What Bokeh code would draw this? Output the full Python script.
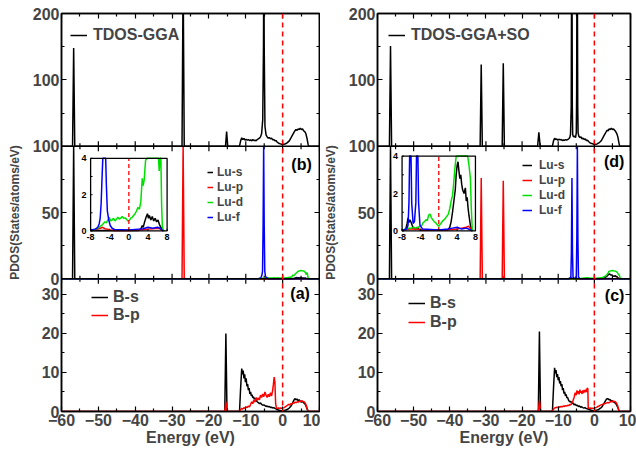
import numpy as np
from bokeh.plotting import figure
from bokeh.models import Range1d, FixedTicker, LinearAxis, Span, Legend, LegendItem
from bokeh.layouts import row
from bokeh.embed import file_html
from bokeh.resources import INLINE
from bokeh.core.properties import value

FONT = "Liberation Sans"
BLACK, RED, GREEN, BLUE = "black", "#ff0000", "#00e000", "#0000ff"

# ---------------- axes / ticks ----------------
x_major = [-60, -50, -40, -30, -20, -10, 0, 10]
x_minor = [-55, -45, -35, -25, -15, -5, 5]
tdos_max = 200
tdos_major = [100, 200]
tdos_minor = [50, 150]
lu_max = 100
lu_major = [0, 50, 100]
lu_minor = [25, 75]
b_max = 34
b_major = [0, 10, 20, 30]
b_minor = [5, 15, 25]
in_ymax = 4
in_x_major = [-8, -4, 0, 4, 8]
in_y_major = [0, 2, 4]
in_y_minor = [1, 3]

# ---------------- TDOS (GGA) ----------------
tdos_gga_e = [-60, -57.0, -56.7, -56.4, -27.3, -27.0, -26.7, -15.5, -15.2, -14.9,
              -11.7, -11.4, -11.1, -10.8, -10.5, -10.2, -9.9, -9.6, -9.3, -9.0,
              -8.7, -8.4, -8.1, -7.8, -7.5, -7.2, -6.9, -6.6, -6.3, -6.0,
              -5.7, -5.4, -5.2, -5.1, -5.0, -4.8, -4.5, -4.2, -3.9, -3.6,
              -3.3, -3.0, -2.7, -2.4, -2.1, -1.8, -1.5, -1.2, -0.9, -0.6,
              -0.3, 0.0, 0.3, 0.6, 0.9, 1.2, 1.5, 1.8, 2.1, 2.4,
              2.7, 3.0, 3.3, 3.6, 3.9, 4.2, 4.5, 4.8, 5.1, 5.4,
              5.7, 6.0, 6.3, 6.6, 6.9, 7.1, 10]
tdos_gga_v = [0, 0, 148, 0, 0, 260, 0, 0, 22, 0,
              0, 8, 12.5, 10, 11.5, 9, 10.5, 9, 10, 8.5,
              9.5, 8, 10, 8.5, 9, 8, 10, 11, 12, 14,
              19, 40, 150, 300, 150, 30, 17, 14, 12, 13,
              11, 12, 9.5, 10, 8, 8.5, 6, 5, 4, 3.5,
              3, 2.5, 2.8, 3.2, 4, 5, 6.5, 8, 11, 14,
              17, 20, 23, 25, 24, 26, 25, 27, 25, 26,
              23, 22, 19, 12, 3, 0, 0]

# ---------------- TDOS (GGA+SO) ----------------
tdos_so_e = [-60, -56.7, -56.4, -56.1, -31.6, -31.3, -31.0, -25.5, -25.2, -24.9,
             -15.7, -15.35, -15.0,
             -11.6, -11.3, -11.0, -10.7, -10.4, -10.1, -9.8, -9.5, -9.2, -8.9,
             -8.6, -8.3, -8.0, -7.7, -7.4, -7.1, -6.8, -6.6, -6.4, -6.3,
             -6.2, -6.1, -6.0, -5.8, -5.5, -5.2, -5.0, -4.9, -4.8, -4.7,
             -4.6, -4.5, -4.3, -4.0, -3.7, -3.4, -3.1, -2.8, -2.5, -2.2,
             -1.9, -1.6, -1.3, -1.0, -0.7, -0.4, -0.1, 0.2, 0.5, 0.8,
             1.1, 1.4, 1.7, 2.0, 2.3, 2.6, 2.9, 3.2, 3.5, 3.8,
             4.1, 4.4, 4.7, 5.0, 5.3, 5.6, 5.9, 6.2, 6.5, 6.8,
             7.0, 10]
tdos_so_v = [0, 0, 151, 0, 0, 123, 0, 0, 125, 0,
             0, 21, 0,
             0, 8, 12, 10, 11, 9, 10.5, 9.5, 10, 8.5,
             9.5, 8.5, 10, 9, 10, 11, 13, 18, 60, 250,
             300, 60, 18, 14, 15, 13, 20, 80, 300, 250,
             60, 20, 15, 13, 14, 11, 12, 10, 11, 8.5,
             9, 7, 5.5, 4.5, 4, 3.5, 2.5, 2.5, 3, 3.5,
             4.5, 5.5, 7, 9, 12, 15, 18, 21, 24, 23,
             26, 25, 27, 25, 26, 24, 22, 19, 14, 5,
             0, 0]

# ---------------- Lu PDOS (GGA) ----------------
lus_gga_e = [-60, -57.0, -56.7, -56.4, -8.0, 2.0, 2.5, 2.8, 3.0, 3.3,
             3.6, 3.9, 4.1, 4.3, 4.6, 4.9, 5.2, 5.5, 5.8, 6.1,
             6.4, 6.7, 7.0, 7.2, 10]
lus_gga_v = [0, 0, 140, 0, 0.02, 0.03, 0.1, 0.3, 0.2, 0.5,
             0.75, 0.95, 0.7, 0.85, 0.6, 0.8, 0.55, 0.7, 0.5, 0.6,
             0.35, 0.2, 0.05, 0, 0]
lup_gga_e = [-60, -27.3, -27.0, -26.7, -8.0, -7.0, -6.5, -6.0, -5.5, -5.0,
             -4.5, -4.0, -3.0, 0.0, 2.0, 3.0, 4.0, 5.0, 6.0, 6.5,
             7.0, 7.2, 10]
lup_gga_v = [0, 0, 200, 0, 0.02, 0.05, 0.1, 0.15, 0.2, 0.12,
             0.1, 0.05, 0.03, 0.03, 0.05, 0.08, 0.1, 0.12, 0.15, 0.12,
             0.03, 0, 0]
lud_gga_e = [-60, -8.0, -7.5, -7.0, -6.5, -6.0, -5.5, -5.0, -4.7, -4.4,
             -4.1, -3.8, -3.5, -3.2, -2.9, -2.6, -2.3, -2.0, -1.7, -1.4,
             -1.1, -0.8, -0.5, -0.2, 0.1, 0.4, 0.7, 1.0, 1.3, 1.6,
             1.9, 2.2, 2.5, 2.8, 3.0, 3.2, 3.5, 3.8, 4.0, 4.5,
             5.0, 5.5, 6.0, 6.2, 6.35, 6.5, 6.7, 6.85, 7.0, 7.2,
             7.5, 10]
lud_gga_v = [0, 0.02, 0.05, 0.1, 0.15, 0.25, 0.35, 0.5, 0.45, 0.6,
             0.75, 0.55, 0.6, 0.7, 0.55, 0.65, 0.75, 0.65, 0.7, 0.8,
             0.7, 0.72, 0.65, 0.55, 0.58, 0.7, 0.75, 0.85, 0.95, 1.1,
             1.3, 1.2, 1.6, 2.9, 2.5, 2.8, 3.9, 4.6, 5.2, 6.0,
             6.2, 6.0, 5.5, 4.5, 3.3, 4.6, 4.2, 1.5, 0.3, 0.05,
             0, 0]
luf_gga_e = [-60, -8.0, -7.0, -6.5, -6.2, -6.0, -5.8, -5.6, -5.45, -5.3,
             -5.15, -5.0, -4.85, -4.7, -4.5, -4.2, -3.9, -3.5, -3.0, 0.0,
             2.0, 3.0, 4.0, 5.0, 6.0, 6.5, 7.0, 7.3, 10]
luf_gga_v = [0, 0.05, 0.1, 0.2, 0.4, 0.7, 1.5, 3.0, 6, 40,
             130, 40, 6, 2.5, 1.1, 0.6, 0.3, 0.15, 0.08, 0.05,
             0.1, 0.12, 0.2, 0.15, 0.2, 0.15, 0.05, 0, 0]

# ---------------- Lu PDOS (GGA+SO) ----------------
lus_so_e = [-60, -56.7, -56.4, -56.1, -8.0, -7.2, -6.9, -6.7, -6.5, -6.3,
            -6.1, -5.8, -5.5, -5.0, -4.7, -4.4, -4.0, 2.0, 2.4, 2.7,
            3.0, 3.3, 3.6, 3.8, 4.0, 4.2, 4.4, 4.6, 4.8, 5.0,
            5.2, 5.5, 5.8, 6.0, 6.2, 6.4, 6.6, 6.9, 7.2, 7.4, 10]
lus_so_v = [0, 0, 140, 0, 0.02, 0.1, 0.4, 0.7, 0.45, 0.6,
            0.5, 0.3, 0.15, 0.1, 0.2, 0.1, 0.05, 0.05, 0.2, 0.5,
            1.0, 1.6, 2.2, 3.0, 3.5, 3.7, 3.2, 2.8, 3.0, 2.5,
            2.2, 2.0, 2.3, 1.6, 1.8, 1.2, 0.8, 0.3, 0.05, 0, 0]
lup_so_e = [-60, -31.6, -31.3, -31.0, -25.5, -25.2, -24.9, -8.0, -7.0, -6.0,
            -5.0, -4.0, -3.0, -2.0, 0.0, 2.0, 3.0, 4.0, 5.0, 6.0,
            6.5, 7.0, 7.3, 10]
lup_so_v = [0, 0, 76, 0, 0, 74, 0, 0.03, 0.08, 0.12,
            0.1, 0.08, 0.05, 0.05, 0.04, 0.06, 0.08, 0.1, 0.15, 0.2,
            0.25, 0.1, 0, 0]
lud_so_e = [-60, -8.0, -7.0, -6.5, -6.0, -5.5, -5.0, -4.5, -4.0, -3.7,
            -3.4, -3.1, -2.8, -2.5, -2.2, -1.9, -1.6, -1.3, -1.0, -0.7,
            -0.4, -0.1, 0.0, 0.3, 0.6, 0.9, 1.2, 1.5, 1.8, 2.1,
            2.4, 2.7, 3.0, 3.2, 3.5, 3.8, 4.0, 4.5, 5.0, 5.5,
            6.0, 6.3, 6.6, 6.9, 7.1, 7.3, 7.5, 10]
lud_so_v = [0, 0.05, 0.1, 0.15, 0.15, 0.2, 0.15, 0.2, 0.25, 0.3,
            0.45, 0.5, 0.6, 0.55, 0.85, 0.9, 0.7, 0.6, 0.5, 0.45,
            0.35, 0.28, 0.25, 0.35, 0.45, 0.55, 0.6, 0.7, 0.8, 0.9,
            1.2, 1.6, 1.9, 2.4, 3.3, 4.5, 5.5, 6.0, 6.3, 6.0,
            5.5, 5.0, 3.5, 2.8, 1.2, 0.1, 0, 0]
luf_so_e = [-60, -8.0, -7.0, -6.7, -6.5, -6.35, -6.2, -6.05, -5.9, -5.6,
            -5.3, -5.0, -4.85, -4.7, -4.55, -4.4, -4.1, -3.5, 0.0, 2.0,
            3.0, 4.0, 5.0, 6.0, 7.0, 7.3, 10]
luf_so_v = [0, 0.02, 0.1, 0.3, 1.5, 20, 76, 20, 1.5, 0.4,
            0.5, 1.5, 30, 130, 30, 1.5, 0.3, 0.1, 0.05, 0.1,
            0.15, 0.2, 0.1, 0.15, 0.05, 0, 0]

# ---------------- B PDOS (GGA) ----------------
bs_gga_e = [-60, -15.7, -15.4, -15.1, -11.7, -11.4, -11.1, -10.9, -10.7, -10.5,
            -10.3, -10.1, -9.9, -9.7, -9.5, -9.3, -9.1, -8.9, -8.7, -8.5,
            -8.3, -8.1, -7.9, -7.7, -7.5, -7.2, -6.9, -6.6, -6.3, -6.0,
            -5.7, -5.4, -5.1, -4.8, -4.5, -4.2, -3.9, -3.6, -3.3, -3.0,
            -2.7, -2.4, -2.1, -1.8, -1.5, -1.2, -0.9, -0.6, -0.3, 0.0,
            0.3, 0.6, 0.9, 1.2, 1.5, 1.8, 2.1, 2.4, 2.7, 3.0,
            3.3, 3.6, 3.9, 4.2, 4.5, 4.8, 5.1, 5.4, 5.7, 6.0,
            6.3, 6.6, 6.9, 7.1, 10]
bs_gga_v = [0, 0, 20, 0, 0, 6, 11, 9.5, 10.5, 8.5,
            9.5, 7.5, 8.5, 6.5, 7, 5.5, 6, 4.5, 5, 4,
            4.3, 3.5, 3.8, 3.2, 3.4, 2.8, 2.5, 2.3, 2.0, 2.2,
            1.8, 1.6, 1.7, 1.5, 1.3, 1.4, 1.2, 1.3, 1.0, 1.1,
            0.9, 1.0, 0.8, 0.7, 0.5, 0.4, 0.3, 0.25, 0.2, 0.2,
            0.25, 0.3, 0.4, 0.5, 0.7, 0.9, 1.2, 1.6, 2.2, 2.8,
            3.3, 3.0, 3.2, 2.8, 3.0, 2.6, 2.4, 2.6, 2.2, 2.0,
            1.5, 0.8, 0.1, 0, 0]
bp_gga_e = [-60, -15.7, -15.4, -15.1, -11.7, -11.4, -11.1, -10.8, -10.5, -10.2,
            -9.9, -9.6, -9.3, -9.0, -8.7, -8.4, -8.1, -7.8, -7.5, -7.2,
            -6.9, -6.6, -6.3, -6.0, -5.7, -5.4, -5.1, -4.8, -4.5, -4.2,
            -3.9, -3.6, -3.3, -3.0, -2.7, -2.5, -2.3, -2.1, -1.9, -1.7,
            -1.4, -1.1, -0.8, -0.5, -0.2, 0.1, 0.4, 0.7, 1.0, 1.3,
            1.6, 1.9, 2.2, 2.5, 2.8, 3.1, 3.4, 3.7, 4.0, 4.3,
            4.6, 4.9, 5.2, 5.5, 5.8, 6.1, 6.4, 6.7, 6.9, 10]
bp_gga_v = [0, 0, 2.5, 0, 0, 0.5, 0.8, 0.6, 1.0, 0.8,
            1.2, 1.0, 1.4, 1.2, 1.8, 2.5, 2.0, 3.0, 2.4, 3.6,
            2.8, 3.5, 3.0, 4.2, 3.6, 4.5, 3.8, 5.0, 4.2, 3.6,
            4.4, 3.8, 4.8, 4.0, 5.5, 7.0, 8.8, 7.5, 2.0, 0.9,
            0.8, 0.9, 0.8, 0.9, 0.8, 0.9, 1.0, 1.2, 1.4, 1.6,
            1.8, 1.7, 2.0, 1.9, 2.2, 2.1, 2.4, 2.3, 2.5, 2.4,
            2.7, 2.6, 2.8, 2.6, 2.5, 2.2, 1.6, 0.5, 0, 0]

# ---------------- B PDOS (GGA+SO) ----------------
bs_so_e = [-60, -15.5, -15.2, -14.9, -11.6, -11.3, -11.0, -10.8, -10.6, -10.4,
           -10.2, -10.0, -9.8, -9.6, -9.4, -9.2, -9.0, -8.8, -8.6, -8.4,
           -8.2, -8.0, -7.8, -7.6, -7.4, -7.1, -6.8, -6.5, -6.2, -5.9,
           -5.6, -5.3, -5.0, -4.7, -4.4, -4.1, -3.8, -3.5, -3.2, -2.9,
           -2.6, -2.3, -2.0, -1.7, -1.4, -1.1, -0.8, -0.5, -0.2, 0.1,
           0.4, 0.7, 1.0, 1.3, 1.6, 1.9, 2.2, 2.5, 2.8, 3.1,
           3.4, 3.7, 4.0, 4.3, 4.6, 4.9, 5.2, 5.5, 5.8, 6.1,
           6.4, 6.7, 6.9, 7.1, 10]
bs_so_v = [0, 0, 20.5, 0, 0, 6, 11.2, 9.8, 10.6, 8.8,
           9.6, 8.0, 8.8, 7.2, 7.8, 6.5, 7.0, 5.5, 6.0, 4.6,
           5.0, 4.0, 4.4, 3.5, 3.6, 2.8, 2.5, 2.6, 2.0, 2.2,
           1.7, 1.9, 1.5, 1.6, 1.3, 1.4, 1.1, 1.2, 1.0, 0.9,
           1.0, 0.8, 0.7, 0.6, 0.5, 0.4, 0.3, 0.25, 0.2, 0.2,
           0.3, 0.35, 0.45, 0.6, 0.8, 1.0, 1.3, 1.8, 2.3, 2.8,
           3.2, 3.3, 3.0, 3.1, 2.7, 2.8, 2.4, 2.5, 2.1, 1.8,
           1.2, 0.5, 0.05, 0, 0]
bp_so_e = [-60, -15.5, -15.2, -14.9, -11.6, -11.3, -11.0, -10.7, -10.4, -10.1,
           -9.8, -9.5, -9.2, -8.9, -8.6, -8.3, -8.0, -7.7, -7.4, -7.1,
           -6.8, -6.5, -6.2, -5.9, -5.6, -5.3, -5.0, -4.8, -4.6, -4.4,
           -4.2, -4.0, -3.8, -3.6, -3.4, -3.2, -3.0, -2.8, -2.6, -2.4,
           -2.2, -2.0, -1.8, -1.7, -1.4, -1.1, -0.8, -0.5, -0.2, 0.1,
           0.4, 0.7, 1.0, 1.3, 1.6, 1.9, 2.2, 2.5, 2.8, 3.1,
           3.4, 3.7, 4.0, 4.3, 4.6, 4.9, 5.2, 5.5, 5.8, 6.1,
           6.4, 6.7, 6.9, 10]
bp_so_v = [0, 0, 2.8, 0, 0, 0.6, 0.9, 1.0, 1.1, 1.0,
           1.2, 1.1, 1.3, 1.2, 1.4, 1.3, 1.5, 1.4, 1.6, 1.5,
           1.8, 1.7, 2.2, 2.8, 3.6, 4.8, 4.2, 5.4, 4.6, 5.2,
           4.4, 5.6, 4.8, 5.2, 4.5, 5.4, 4.7, 5.5, 4.9, 5.6,
           5.0, 6.0, 5.8, 0.9, 0.8, 0.9, 0.8, 0.85, 0.8, 0.9,
           1.0, 1.1, 1.3, 1.4, 1.6, 1.7, 1.8, 1.9, 2.0, 2.1,
           2.2, 2.3, 2.2, 2.4, 2.6, 2.5, 2.7, 2.6, 2.5, 2.2,
           1.6, 0.5, 0, 0]

LAYOUT_H = 450
MB_TOP = 13
MB_BOTTOM = 39
PANEL_PX = (LAYOUT_H - MB_TOP - MB_BOTTOM) / 3.0
MAJ_TICK_PX = 5
MIN_TICK_PX = 3


def style_axis(ax, labels=True, size="16px"):
    ax.major_tick_in = MAJ_TICK_PX
    ax.major_tick_out = 0
    ax.minor_tick_in = MIN_TICK_PX
    ax.minor_tick_out = 0
    ax.axis_line_width = 1.5
    ax.major_tick_line_width = 1.2
    ax.minor_tick_line_width = 1.2
    if labels:
        ax.major_label_text_font = FONT
        ax.major_label_text_font_style = "bold"
        ax.major_label_text_font_size = size
        ax.major_label_standoff = 2
    else:
        ax.major_label_text_font_size = "0px"
        ax.major_label_text_color = None
        ax.major_label_standoff = 0


def legend(items, loc, font, gw, gh, standoff, spacing):
    return Legend(items=items, location=loc, padding=0, margin=0, spacing=spacing,
                  glyph_width=gw, glyph_height=gh, label_height=gh, label_standoff=standoff,
                  label_text_font=FONT, label_text_font_style="bold", label_text_font_size=font,
                  border_line_alpha=0, background_fill_alpha=0)


def build(width, mbl, mbr, tdos, tdos_label, lu, bb, tags, inset_x, inset_y, legs):
    p = figure(width=width, height=LAYOUT_H, x_range=Range1d(-60, 10), y_range=Range1d(0, 3),
               output_backend="svg", toolbar_location=None,
               min_border_left=mbl, min_border_right=mbr, min_border_top=MB_TOP,
               min_border_bottom=MB_BOTTOM,
               x_axis_label="Energy (eV)", y_axis_label="PDOS(States/atoms/eV)")
    p.xgrid.visible = False
    p.ygrid.visible = False
    p.outline_line_color = "black"
    p.outline_line_width = 1.5
    p.background_fill_color = "white"
    p.border_fill_color = "white"

    # y ticks of the three stacked panels (bottom=B, middle=Lu, top=TDOS)
    panels = [(b_max, b_major, b_minor), (lu_max, lu_major, lu_minor), (tdos_max, tdos_major, tdos_minor)]
    ymaj, ymin, yover = [], [], {}
    for k, (vmax, maj, mnr) in enumerate(panels):
        for t in maj:
            pos = k + t / vmax
            ymaj.append(pos)
            yover[pos] = str(t)
        for t in mnr:
            ymin.append(k + t / vmax)
    yt = FixedTicker(ticks=ymaj, minor_ticks=ymin)
    xt = FixedTicker(ticks=x_major, minor_ticks=x_minor)

    p.xaxis.ticker = xt
    p.yaxis.ticker = yt
    p.yaxis.major_label_overrides = yover
    for ax in p.xaxis:
        style_axis(ax)
        ax.axis_label_text_font = FONT
        ax.axis_label_text_font_style = "bold"
        ax.axis_label_text_font_size = "16px"
        ax.axis_label_standoff = 0
    for ax in p.yaxis:
        style_axis(ax)
        ax.axis_label_text_font = FONT
        ax.axis_label_text_font_style = "bold"
        ax.axis_label_text_font_size = "12px"
        ax.axis_label_standoff = 8

    ra = LinearAxis(ticker=yt)
    style_axis(ra, labels=False)
    p.add_layout(ra, "right")
    ta = LinearAxis(ticker=xt)
    style_axis(ta, labels=False)
    p.add_layout(ta, "above")

    # panel dividers and Fermi level
    for loc in (1, 2):
        p.add_layout(Span(location=loc, dimension="width", line_color="black", line_width=1.5))
    p.add_layout(Span(location=0, dimension="height", line_color=RED, line_dash="5 4", line_width=1.5))

    def sub(k, vmax):
        return p.subplot(x_source=p.x_range, y_source=Range1d(0, vmax),
                         x_target=p.x_range, y_target=Range1d(k, k + 1))

    top = sub(2, tdos_max)
    mid = sub(1, lu_max)
    bot = sub(0, b_max)

    # x ticks on the inner panel edges (each panel has its own framed box)
    for sp, vmax, edges in ((top, tdos_max, (0,)), (mid, lu_max, (0, 1)), (bot, b_max, (1,))):
        for ticks, px in ((x_major, MAJ_TICK_PX), (x_minor, MIN_TICK_PX)):
            d = px / PANEL_PX * vmax
            for edge in edges:
                y0 = edge * vmax
                y1 = y0 + d if edge == 0 else y0 - d
                sp.segment(x0=ticks, y0=[y0] * len(ticks), x1=ticks, y1=[y1] * len(ticks),
                           line_color="black", line_width=1.2)

    r_t = top.line(tdos[0], tdos[1], line_color=BLACK, line_width=1.5)

    lu_r = []
    for name, e, v, c in lu:
        r = mid.line(e, np.minimum(np.array(v, dtype=float), lu_max), line_color=c, line_width=1.5)
        lu_r.append((name, r))

    b_r = []
    for name, e, v, c in bb:
        r = bot.line(e, v, line_color=c, line_width=1.5)
        b_r.append((name, r))

    # inset in the Lu panel
    inn = p.subplot(x_source=Range1d(-8, 8), y_source=Range1d(0, in_ymax),
                    x_target=Range1d(*inset_x),
                    y_target=Range1d(1 + inset_y[0] / lu_max, 1 + inset_y[1] / lu_max))
    inn.quad(left=[-8], right=[8], bottom=[0], top=[in_ymax], fill_color="white", line_color=None)
    for name, e, v, c in lu:
        e = np.array(e, dtype=float)
        v = np.array(v, dtype=float)
        m = (e >= -8) & (e <= 8)
        inn.line(e[m], np.minimum(v[m], in_ymax), line_color=c, line_width=1.5)
    inn.segment(x0=[0], y0=[0], x1=[0], y1=[in_ymax], line_color=RED, line_dash="4 3", line_width=1.3)
    inn.quad(left=[-8], right=[8], bottom=[0], top=[in_ymax], fill_alpha=0, line_color="black", line_width=1.3)
    yt_in = in_y_minor + in_y_major
    inn.segment(x0=[-8] * len(yt_in), y0=yt_in, x1=[-7.6] * len(yt_in), y1=yt_in,
                line_color="black", line_width=1)
    inn.segment(x0=in_x_major, y0=[0] * len(in_x_major), x1=in_x_major, y1=[0.12] * len(in_x_major),
                line_color="black", line_width=1)
    inn.text(x=in_x_major, y=[0] * len(in_x_major), text=[str(t) for t in in_x_major],
             text_align="center", text_baseline="top", y_offset=3,
             text_font=value(FONT), text_font_style="bold", text_font_size="9px")
    inn.text(x=[-8] * len(in_y_major), y=in_y_major, text=[str(t) for t in in_y_major],
             text_align="right", text_baseline="middle", x_offset=-4,
             text_font=value(FONT), text_font_style="bold", text_font_size="9px")

    # panel tags
    tagfont = dict(text_font=value(FONT), text_font_style="bold", text_font_size="16px",
                   text_align="right", text_baseline="middle")
    mid.text(x=[tags[0][0]], y=[tags[0][1]], text=[tags[0][2]], **tagfont)
    bot.text(x=[tags[1][0]], y=[tags[1][1]], text=[tags[1][2]], **tagfont)

    # legends (location = bottom-left corner, px from the frame's bottom-left)
    lt, lm, lb = legs
    p.add_layout(legend([LegendItem(label=tdos_label, renderers=[r_t])], lt[0], "16px", lt[1], 18, lt[2], 0))
    p.add_layout(legend([LegendItem(label=n, renderers=[r]) for n, r in lu_r], lm[0], "12px", lm[1], 14, lm[2], lm[3]))
    p.add_layout(legend([LegendItem(label=n, renderers=[r]) for n, r in b_r], lb[0], "16px", lb[1], 18, lb[2], lb[3]))
    return p


left = build(
    320, 61, 1,
    (tdos_gga_e, tdos_gga_v), "TDOS-GGA",
    [("Lu-s", lus_gga_e, lus_gga_v, BLACK), ("Lu-p", lup_gga_e, lup_gga_v, RED),
     ("Lu-d", lud_gga_e, lud_gga_v, GREEN), ("Lu-f", luf_gga_e, luf_gga_v, BLUE)],
    [("B-s", bs_gga_e, bs_gga_v, BLACK), ("B-p", bp_gga_e, bp_gga_v, RED)],
    [(7.9, 86.5, "(b)"), (7.4, 30.3, "(a)")],
    (-52.1, -31.35), (36.1, 90.8),
    (((9, 367), 17, 6), ((146, 187), 6, 4, 1), ((30, 87), 17, 5, 0)),
)
right = build(
    316, 51, 6,
    (tdos_so_e, tdos_so_v), "TDOS-GGA+SO",
    [("Lu-s", lus_so_e, lus_so_v, BLACK), ("Lu-p", lup_so_e, lup_so_v, RED),
     ("Lu-d", lud_so_e, lud_so_v, GREEN), ("Lu-f", luf_so_e, luf_so_v, BLUE)],
    [("B-s", bs_so_e, bs_so_v, BLACK), ("B-p", bp_so_e, bp_so_v, RED)],
    [(8.3, 88.2, "(d)"), (8.3, 29.7, "(c)")],
    (-53.2, -32.9), (36.1, 92.5),
    (((11, 367), 17, 6), ((145, 194), 10, 7, 1), ((31, 80), 17, 5, 1)),
)

page = row(left, right)
open("out.html", "w").write(file_html(page, INLINE))
